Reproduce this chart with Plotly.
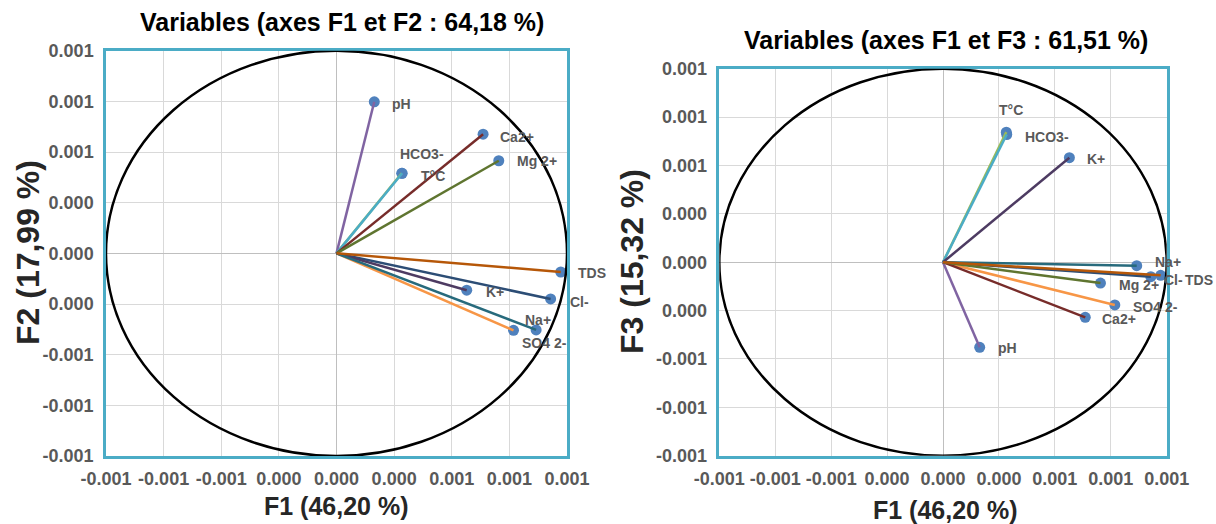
import plotly.graph_objects as go

# ---------------- data ----------------
variables = ["T°C", "pH", "HCO3-", "SO4 2-", "Cl-", "Ca2+", "Mg 2+", "K+", "Na+", "TDS"]
f1 = [0.283, 0.164, 0.285, 0.768, 0.929, 0.636, 0.704, 0.565, 0.866, 0.973]
f2 = [0.395, 0.748, 0.395, -0.380, -0.225, 0.588, 0.457, -0.182, -0.378, -0.092]
f3 = [0.672, -0.440, 0.660, -0.221, -0.075, -0.285, -0.108, 0.540, -0.018, -0.068]

tick_values = [-1, -0.75, -0.5, -0.25, 0, 0.25, 0.5, 0.75, 1]
tick_labels = ["-0.001", "-0.001", "-0.001", "0.000", "0.000", "0.000", "0.001", "0.001", "0.001"]

title_left = "Variables (axes F1 et F2 : 64,18 %)"
title_right = "Variables (axes F1 et F3 : 61,51 %)"
xlabel = "F1 (46,20 %)"
ylabel_left = "F2 (17,99 %)"
ylabel_right = "F3 (15,32 %)"
circle_radius = 1.0

# ---------------- style ----------------
W, H = 1216, 524
line_colors = {
    "T°C": "#9BBB59", "pH": "#8064A2", "HCO3-": "#4BACC6", "SO4 2-": "#F79646",
    "Cl-": "#2C4D75", "Ca2+": "#772C2A", "Mg 2+": "#5F7530", "K+": "#4D3B62",
    "Na+": "#276A7C", "TDS": "#B65708",
}
marker_color = "#4F81BD"
label_color = "#595959"
FONT = "Liberation Sans"

# label placement (xanchor, xshift px, yshift px)
label_pos_left = {
    "T°C": ("left", 18, -3), "pH": ("left", 17, -2), "HCO3-": ("center", 20, 19),
    "SO4 2-": ("left", 7, -13), "Cl-": ("left", 18, -3), "Ca2+": ("left", 16, -3),
    "Mg 2+": ("left", 17, 0), "K+": ("left", 18, -2), "Na+": ("center", 2, 10),
    "TDS": ("left", 16, -1),
}
label_pos_right = {
    "T°C": ("center", 5, 22), "pH": ("left", 17, -1), "HCO3-": ("left", 17, -3),
    "SO4 2-": ("left", 17, -2), "Cl-": ("left", 12, -3), "Ca2+": ("left", 16, -2),
    "Mg 2+": ("left", 18, -2), "K+": ("left", 17, -1), "Na+": ("left", 17, 4),
    "TDS": ("left", 23, -5),
}

def px_x(p):
    return p / W

def px_y(p):
    return 1 - p / H

panels = [
    dict(xa="x", ya="y", xkey="xaxis", ykey="yaxis", ys=f2, labels=label_pos_left,
         dom_x=(106, 567), dom_y=(50.7, 456), title=title_left, title_xy=(342, 22),
         ylab=ylabel_left, ylab_xy=(28, 253), xlab_xy=(336, 506)),
    dict(xa="x2", ya="y2", xkey="xaxis2", ykey="yaxis2", ys=f3, labels=label_pos_right,
         dom_x=(719.3, 1166.7), dom_y=(68.7, 455.7), title=title_right, title_xy=(946, 40),
         ylab=ylabel_right, ylab_xy=(632, 262), xlab_xy=(945, 510)),
]

fig = go.Figure()
annotations = []
shapes = []
layout_axes = {}

for p in panels:
    # markers
    fig.add_trace(go.Scatter(
        x=f1, y=p["ys"], mode="markers", xaxis=p["xa"], yaxis=p["ya"],
        marker=dict(color=marker_color, size=11, line=dict(width=0)),
        hoverinfo="skip", showlegend=False))
    # vectors
    for name, xv, yv in zip(variables, f1, p["ys"]):
        fig.add_trace(go.Scatter(
            x=[0, xv], y=[0, yv], mode="lines", xaxis=p["xa"], yaxis=p["ya"],
            line=dict(color=line_colors[name], width=2.5), hoverinfo="skip", showlegend=False))
        anc, dx, dy = p["labels"][name]
        annotations.append(dict(
            x=xv, y=yv, xref=p["xa"], yref=p["ya"], text=name, showarrow=False,
            xanchor=anc, yanchor="middle", xshift=dx, yshift=dy, borderpad=0,
            font=dict(family=FONT, size=14, color=label_color, weight="bold")))
    # unit circle
    shapes.append(dict(type="circle", xref=p["xa"], yref=p["ya"],
                       x0=-circle_radius, y0=-circle_radius, x1=circle_radius, y1=circle_radius,
                       line=dict(color="black", width=2.5), layer="above"))
    axis_common = dict(
        range=[-1, 1], tickmode="array", tickvals=tick_values, ticktext=tick_labels,
        showgrid=True, gridcolor="#D9D9D9", gridwidth=1,
        zeroline=True, zerolinecolor="#BFBFBF", zerolinewidth=1,
        showline=True, linecolor="#4BACC6", linewidth=2.5, mirror=True,
        ticks="", fixedrange=True, automargin=False,
        tickfont=dict(family=FONT, size=18, color=label_color, weight="bold"),
    )
    layout_axes[p["xkey"]] = dict(axis_common, domain=[px_x(p["dom_x"][0]), px_x(p["dom_x"][1])],
                                  anchor=p["ya"], ticklabelstandoff=5)
    layout_axes[p["ykey"]] = dict(axis_common, domain=[px_y(p["dom_y"][1]), px_y(p["dom_y"][0])],
                                  anchor=p["xa"], ticklabelstandoff=6)
    # titles
    annotations.append(dict(
        x=px_x(p["title_xy"][0]), y=px_y(p["title_xy"][1]), xref="paper", yref="paper",
        text=p["title"], showarrow=False, xanchor="center", yanchor="middle",
        font=dict(family=FONT, size=25, color="black", weight="bold")))
    annotations.append(dict(
        x=px_x(p["xlab_xy"][0]), y=px_y(p["xlab_xy"][1]), xref="paper", yref="paper",
        text=xlabel, showarrow=False, xanchor="center", yanchor="middle",
        font=dict(family=FONT, size=25, color="#262626", weight="bold")))
    annotations.append(dict(
        x=px_x(p["ylab_xy"][0]), y=px_y(p["ylab_xy"][1]), xref="paper", yref="paper",
        text=p["ylab"], showarrow=False, xanchor="center", yanchor="middle", textangle=-90,
        font=dict(family=FONT, size=32, color="#262626", weight="bold")))

fig.update_layout(
    template="none",
    width=W, height=H, margin=dict(l=0, r=0, t=0, b=0, autoexpand=False),
    paper_bgcolor="white", plot_bgcolor="white",
    annotations=annotations, shapes=shapes, showlegend=False,
    **layout_axes,
)

fig.write_html("out.html", config={"displayModeBar": False})
